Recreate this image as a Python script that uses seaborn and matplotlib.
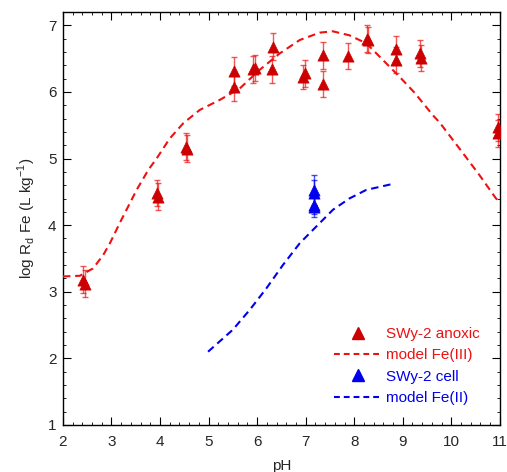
import numpy as np
import pandas as pd
import matplotlib
matplotlib.use("Agg")
import matplotlib.pyplot as plt
import seaborn as sns
from matplotlib.ticker import MultipleLocator
from matplotlib.lines import Line2D

sns.set_theme(style="white")
plt.rcParams['font.family'] = ['Liberation Sans', 'DejaVu Sans']

# SWy-2 anoxic data
anox_ph = [2.42, 2.45, 3.93, 3.95, 4.53, 4.55, 5.52, 5.52, 5.92, 5.96, 6.33, 6.31,
           6.95, 6.99, 7.36, 7.36, 7.88, 8.26, 8.28, 8.87, 8.87, 9.35, 9.38, 10.96, 10.96]
anox_logrd = [3.18, 3.12, 4.48, 4.43, 5.18, 5.15, 6.31, 6.07, 6.34, 6.36, 6.68, 6.34,
              6.23, 6.28, 6.55, 6.12, 6.54, 6.80, 6.78, 6.64, 6.48, 6.58, 6.51, 5.47, 5.38]
anox_err = [0.2, 0.2, 0.2, 0.2, 0.2, 0.2, 0.22, 0.2, 0.2, 0.2, 0.2, 0.2,
            0.18, 0.2, 0.2, 0.2, 0.2, 0.2, 0.2, 0.2, 0.2, 0.2, 0.2, 0.2, 0.2]

# SWy-2 cell data
cell_ph = [7.18, 7.18, 7.18, 7.18]
cell_logrd = [4.53, 4.48, 4.31, 4.27]
cell_err = [0.22, 0.2, 0.15, 0.15]

# model Fe(III)
m3_ph = [2.0, 2.35, 2.62, 2.83, 2.97, 3.17, 3.31, 3.52, 3.76, 3.93, 4.2, 4.48, 4.82, 5.23,
         5.64, 6.05, 6.47, 6.88, 7.29, 7.56, 7.9, 8.25, 8.59, 8.93, 9.24, 9.62, 9.76, 10.24,
         10.58, 10.92, 11.0]
m3_logrd = [3.23, 3.24, 3.35, 3.55, 3.73, 4.03, 4.23, 4.53, 4.83, 5.0, 5.3, 5.53, 5.73, 5.88,
            6.05, 6.33, 6.58, 6.78, 6.89, 6.91, 6.85, 6.73, 6.48, 6.23, 5.99, 5.65, 5.54, 5.08,
            4.75, 4.4, 4.35]

# model Fe(II)
m2_ph = [4.99, 5.5, 5.85, 6.19, 6.53, 6.88, 7.22, 7.56, 7.9, 8.25, 8.8]
m2_logrd = [2.1, 2.43, 2.73, 3.05, 3.4, 3.73, 3.98, 4.23, 4.4, 4.53, 4.62]

RED_M = "#cc0000"
RED_L = "#ee1111"
BLUE = "#0000ee"
DASH = (0, (3.6, 2.3))

fig = plt.figure(figsize=(5.07, 4.72), dpi=100)
ax = fig.add_axes([0.124, 0.0996, 0.862, 0.875])

ax.errorbar(anox_ph, anox_logrd, yerr=anox_err, fmt='none', ecolor=RED_L, alpha=0.7,
            elinewidth=1.0, capsize=2.5, capthick=1.0, zorder=2)
ax.errorbar(cell_ph, cell_logrd, yerr=cell_err, fmt='none', ecolor=BLUE, alpha=0.7,
            elinewidth=1.0, capsize=2.5, capthick=1.0, zorder=2)

sns.lineplot(x=m3_ph, y=m3_logrd, ax=ax, color=RED_L, linestyle=DASH, linewidth=1.5, zorder=3)
sns.lineplot(x=m2_ph, y=m2_logrd, ax=ax, color=BLUE, linestyle=DASH, linewidth=1.5, zorder=3)

sns.scatterplot(x=anox_ph, y=anox_logrd, ax=ax, marker='^', s=65, color=RED_M, edgecolor=RED_M, linewidth=0.5, zorder=4)
sns.scatterplot(x=cell_ph, y=cell_logrd, ax=ax, marker='^', s=65, color=BLUE, edgecolor=BLUE, linewidth=0.5, zorder=4)

ax.set_xlim(2, 11)
ax.set_ylim(1, 7.2)
ax.xaxis.set_major_locator(MultipleLocator(1))
ax.xaxis.set_minor_locator(MultipleLocator(0.2))
ax.yaxis.set_major_locator(MultipleLocator(1))
ax.yaxis.set_minor_locator(MultipleLocator(0.2))
ax.tick_params(which='both', direction='in', top=True, right=True, bottom=True, left=True,
               color='black', labelsize=11)
ax.tick_params(axis='x', which='major', pad=7.5)
ax.tick_params(axis='y', which='major', pad=4.5)
ax.tick_params(which='major', length=5.5, width=0.8)
ax.tick_params(which='minor', length=2.5, width=0.6)
for s in ax.spines.values():
    s.set_color('black')
    s.set_linewidth(1.0)
ax.grid(False)

ax.set_xlabel("pH", fontsize=11, labelpad=7)
ax.set_ylabel("log R$_\\mathregular{d}$ Fe (L kg$^\\mathregular{-1}$)", fontsize=11, labelpad=7)

handles = [
    Line2D([], [], marker='^', color=RED_M, linestyle='none', markersize=8),
    Line2D([], [], color=RED_L, linestyle=(0, (2.8, 1.9)), linewidth=1.5),
    Line2D([], [], marker='^', color=BLUE, linestyle='none', markersize=8),
    Line2D([], [], color=BLUE, linestyle=(0, (2.8, 1.9)), linewidth=1.5),
]
labels = ["SWy-2 anoxic", "model Fe(III)", "SWy-2 cell", "model Fe(II)"]
leg = ax.legend(handles, labels, loc='lower right', bbox_to_anchor=(0.985, 0.015), frameon=False,
                fontsize=11, handlelength=3.1, labelspacing=0.48, handletextpad=0.3)
for t, c in zip(leg.get_texts(), [RED_L, RED_L, BLUE, BLUE]):
    t.set_color(c)

fig.savefig("out.png", dpi=100)
